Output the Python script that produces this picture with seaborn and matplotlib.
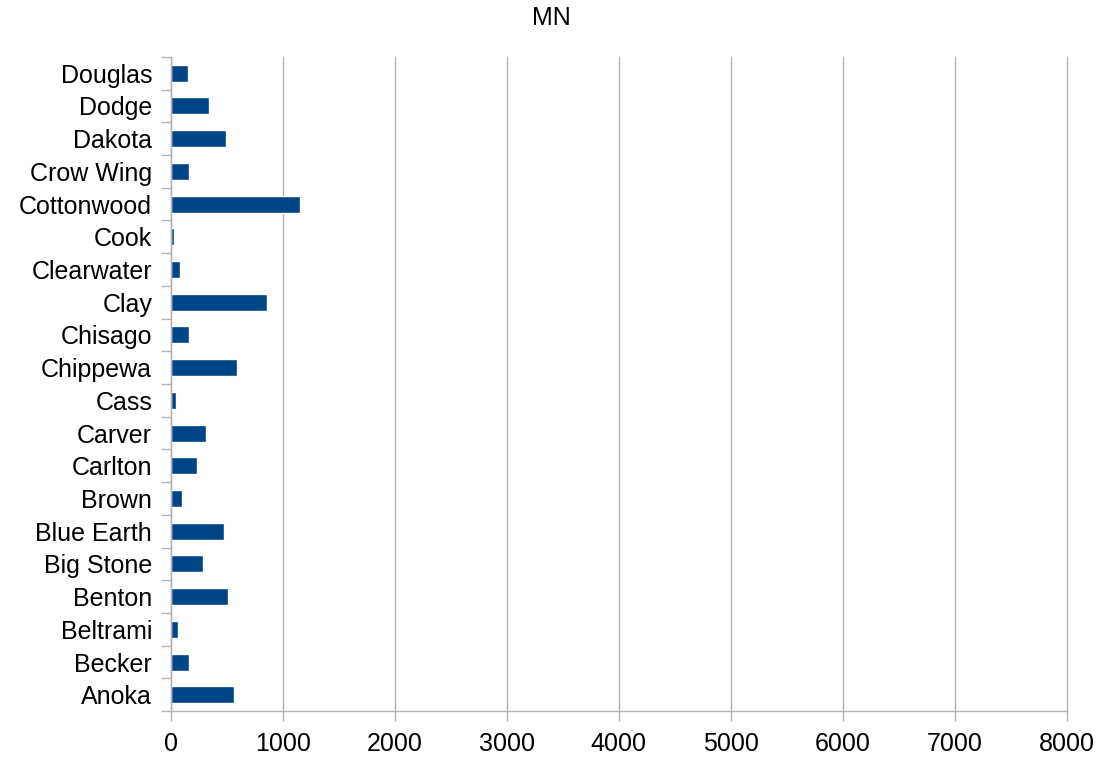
import numpy as np
import pandas as pd
import seaborn as sns
import matplotlib.pyplot as plt
from matplotlib.ticker import FixedLocator

counties = ["Anoka", "Becker", "Beltrami", "Benton", "Big Stone", "Blue Earth",
            "Brown", "Carlton", "Carver", "Cass", "Chippewa", "Chisago", "Clay",
            "Clearwater", "Cook", "Cottonwood", "Crow Wing", "Dakota", "Dodge",
            "Douglas"]
values = [561, 160, 62, 507, 285, 472, 98, 231, 312, 45, 588, 160, 855,
          80, 27, 1157, 160, 490, 338, 151]
x_ticks = [0, 1000, 2000, 3000, 4000, 5000, 6000, 7000, 8000]

df = pd.DataFrame({"county": counties, "value": values})
order = counties[::-1]  # Douglas on top

sns.set_style("white", {"xtick.bottom": True, "ytick.left": True})
plt.rcParams['font.family'] = ['Liberation Sans', 'DejaVu Sans']
plt.rcParams['text.color'] = 'black'
plt.rcParams['xtick.color'] = 'black'
plt.rcParams['ytick.color'] = 'black'

fig = plt.figure(figsize=(11.03, 7.68), dpi=100)
ax = fig.add_axes([0.155, 0.074, 0.812, 0.852])

sns.barplot(data=df, x="value", y="county", order=order, orient="h",
            color="#004586", saturation=1, width=0.52, ax=ax)

ax.set_xlim(0, 8000)
ax.set_ylim(len(order) - 0.5, -0.5)
ax.set_xticks(x_ticks)
ax.set_xticklabels([str(t) for t in x_ticks], fontsize=18)
ax.set_yticklabels(order, fontsize=18)
ax.set_xlabel("")
ax.set_ylabel("")
fig.suptitle("MN", x=0.5, y=0.977, fontsize=18, va="center")

ax.grid(axis="x", color="#b3b3b3", linewidth=1)
for gl in ax.get_xgridlines():
    gl.set_clip_on(False)
ax.set_axisbelow(True)
for side in ["top", "right"]:
    ax.spines[side].set_visible(False)
for side in ["left", "bottom"]:
    ax.spines[side].set_color("#b3b3b3")
    ax.spines[side].set_linewidth(1)

# category boundary ticks like the original
ax.yaxis.set_minor_locator(FixedLocator(np.arange(-0.5, len(order), 1.0)))
ax.tick_params(axis="y", which="major", length=0, pad=13.5, colors="black")
ax.tick_params(axis="y", which="minor", length=7, color="#b3b3b3", width=1)
ax.tick_params(axis="x", which="major", length=7, color="#b3b3b3", width=1,
               pad=8, labelcolor="black")

fig.savefig("out.png", dpi=100)
